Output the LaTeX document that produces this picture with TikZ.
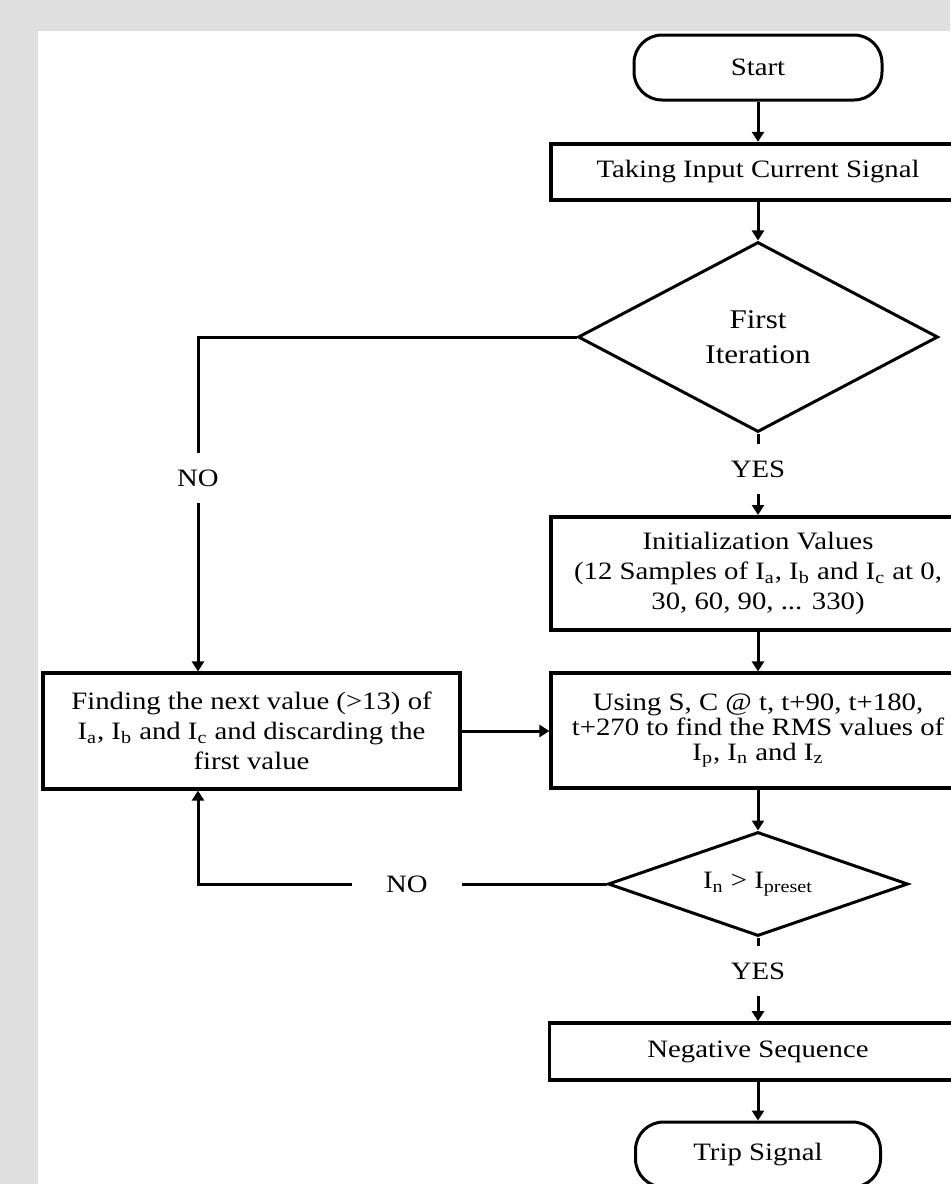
\documentclass[tikz,border=0pt]{standalone}
\usepackage{fontspec}
\setmainfont{Liberation Serif}[FakeStretch=1.15]
\usetikzlibrary{arrows.meta,shapes.geometric}
\definecolor{paper}{HTML}{DFDFDF}
\begin{document}
\begin{tikzpicture}[x=.5pt,y=-.5pt,>={Triangle[length=5pt,width=6pt]},font=\fontsize{12.5}{15}\selectfont,
 procbox/.style={draw,line width=1.6pt,minimum width=207pt,align=center,inner sep=2pt},
 termbox/.style={draw,line width=1.5pt,rounded corners=14pt,minimum width=124pt,minimum height=32.5pt},
 decide/.style={draw,diamond,line width=1.5pt,inner sep=0pt,align=center},
 lbl/.style={inner xsep=17pt,inner ysep=8pt},
 conn/.style={line width=1.5pt}]
 \fill[paper](0,0)rectangle(950,1184);
 \fill[white](38,31)rectangle(950,1184);
 \useasboundingbox(0,0)rectangle(950,1184);
 \node[termbox](start)at(758,67.5){Start};
 \node[procbox,line width=2.2pt,minimum height=28pt](input)at(758,172){Taking Input Current Signal};
 \node[decide,aspect=1.9,minimum width=180pt,minimum height=95pt,font=\fontsize{13.5}{17.5}\selectfont](iter)at(758,337){First\\Iteration};
 \node[lbl](yes1)at(758,469){YES};
 \node[lbl](no1)at(198,478){NO};
 \node[procbox,line width=2pt,minimum height=56.5pt](init)at(758,573.5){Initialization Values\\(12 Samples of I\textsubscript{a}, I\textsubscript{b} and I\textsubscript{c} at 0,\\30, 60, 90, ... 330)};
 \node[procbox,minimum height=57.5pt,font=\fontsize{12.5}{12.5}\selectfont](using)at(758,730.5){Using S, C @ t, t+90, t+180,\\t+270 to find the RMS values of\\I\textsubscript{p}, I\textsubscript{n} and I\textsubscript{z}};
 \node[procbox,minimum width=208.5pt,minimum height=58pt](find)at(251.5,731){Finding the next value (>13) of\\I\textsubscript{a}, I\textsubscript{b} and I\textsubscript{c} and discarding the\\first value};
 \node[decide,aspect=3,minimum width=150pt,minimum height=52pt](check)at(758,884){I\textsubscript{n} > I\textsubscript{preset}};
 \node[lbl](no2)at(407,884){NO};
 \node[lbl](yes2)at(758,971){YES};
 \node[procbox,line width=1.8pt,minimum width=208.5pt,minimum height=28.5pt](neg)at(758,1051.5){Negative Sequence};
 \node[termbox,minimum width=122.5pt](trip)at(758,1154.5){Trip Signal};
 \draw[conn,->](start)--(input);
 \draw[conn,->](input)--(iter);
 \draw[conn](iter)--(yes1);
 \draw[conn,->](yes1)--(init);
 \draw[conn](iter.west)-|(no1);
 \draw[conn,->](no1)--(no1|-find.north);
 \draw[conn,->](init)--(using);
 \draw[conn,->](find.east)--(find.east-|using.west);
 \draw[conn,->](using)--(check);
 \draw[conn](check)--(no2);
 \draw[conn,->](no2)-|(find.south-|no1);
 \draw[conn](check)--(yes2);
 \draw[conn,->](yes2)--(neg);
 \draw[conn,->](neg)--(trip);
\end{tikzpicture}
\end{document}
